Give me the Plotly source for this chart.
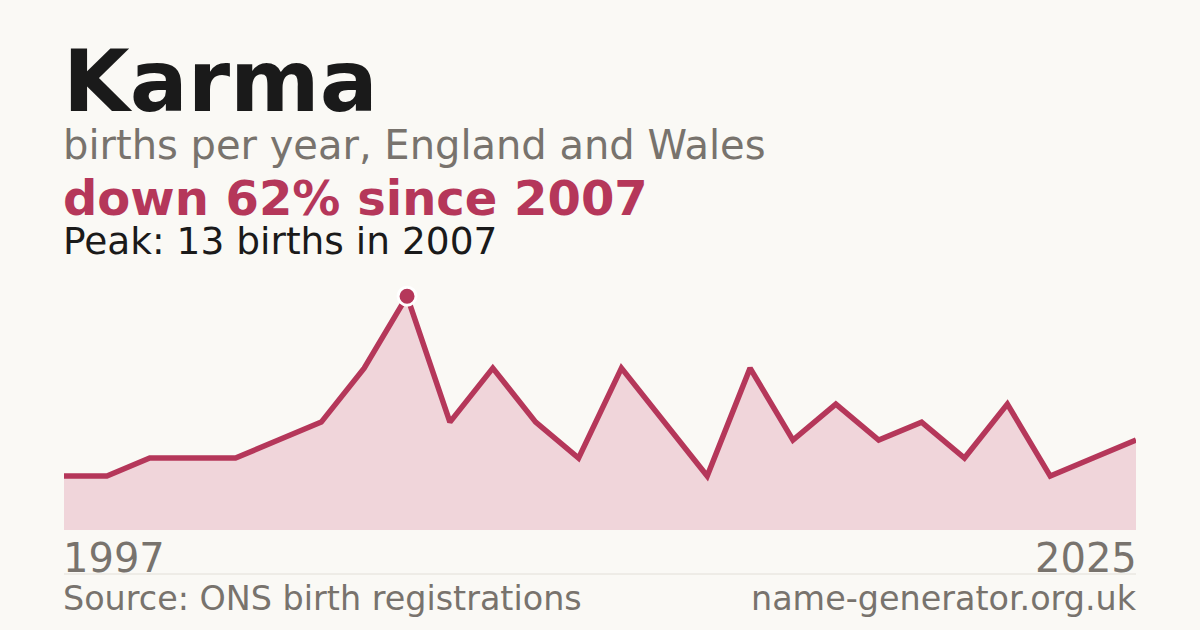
import plotly.graph_objects as go

# births per year for the name, as plotted left to right (years with data only)
point_index = list(range(26))
births = [3, 3, 4, 4, 4, 5, 6, 9, 13, 6, 9, 6, 4, 9, 6, 3, 9, 5, 7, 5, 6, 4, 7, 3, 4, 5]
first_year = "1997"
last_year = "2025"
peak_year = "2007"

name = "Karma"
subtitle = "births per year, England and Wales"
source = "Source: ONS birth registrations"
site = "name-generator.org.uk"

RED = "#b5375a"
FILL = "#f0d5da"
BG = "#faf9f5"
GREY = "#78736d"
INK = "#1a1a1a"
FONT = "DejaVu Sans"

peak = max(births)
peak_i = births.index(peak)
change = round((births[-1] - peak) / peak * 100)

W, H = 1200, 630
LEFT, RIGHT = 61 / W, 1139 / W  # text edges, allowing for annotation padding


def py(px):
    # pixel row -> paper y
    return 1 - px / H


fig = go.Figure()

fig.add_trace(go.Scatter(
    x=point_index, y=births,
    mode="lines",
    line=dict(color=RED, width=5.5),
    fill="tozeroy", fillcolor=FILL,
    hoverinfo="skip",
))

fig.add_trace(go.Scatter(
    x=[point_index[peak_i]], y=[peak],
    mode="markers",
    marker=dict(color=RED, size=18, line=dict(color="white", width=3)),
    cliponaxis=False,
    hoverinfo="skip",
))

ann = [
    dict(text=f"<b>{name}</b>", x=LEFT, y=py(81), size=86, color=INK, anchor="left"),
    dict(text=subtitle, x=LEFT, y=py(145), size=40, color=GREY, anchor="left"),
    dict(text=f"<b>down {abs(change)}% since {peak_year}</b>", x=LEFT, y=py(198), size=48, color=RED, anchor="left"),
    dict(text=f"Peak: {peak} births in {peak_year}", x=LEFT, y=py(241), size=37.5, color=INK, anchor="left"),
    dict(text=first_year, x=LEFT, y=py(557.5), size=40, color=GREY, anchor="left"),
    dict(text=last_year, x=RIGHT, y=py(557.5), size=40, color=GREY, anchor="right"),
    dict(text=source, x=LEFT, y=py(598.5), size=33.4, color=GREY, anchor="left"),
    dict(text=site, x=RIGHT, y=py(598.5), size=33.4, color=GREY, anchor="right"),
]
for a in ann:
    fig.add_annotation(
        text=a["text"], x=a["x"], y=a["y"], xref="paper", yref="paper",
        xanchor=a["anchor"], yanchor="middle", showarrow=False,
        font=dict(family=FONT, size=a["size"], color=a["color"]),
    )

fig.add_shape(type="line", xref="paper", yref="paper",
              x0=64 / W, x1=1136 / W, y0=py(574), y1=py(574),
              line=dict(color="#e2dfd8", width=1))

fig.update_layout(
    width=W, height=H,
    margin=dict(l=0, r=0, t=0, b=0),
    paper_bgcolor=BG, plot_bgcolor=BG,
    showlegend=False,
    xaxis=dict(domain=[64 / W, 1136 / W], range=[0, 25], visible=False, fixedrange=True),
    yaxis=dict(domain=[py(530), py(280)], range=[0, 13.9], visible=False, fixedrange=True),
)

# drop the browser's default body margin so the figure sits at 0,0
fig.write_html("out.html", config={"displayModeBar": False},
               post_script="document.body.style.margin='0';")
